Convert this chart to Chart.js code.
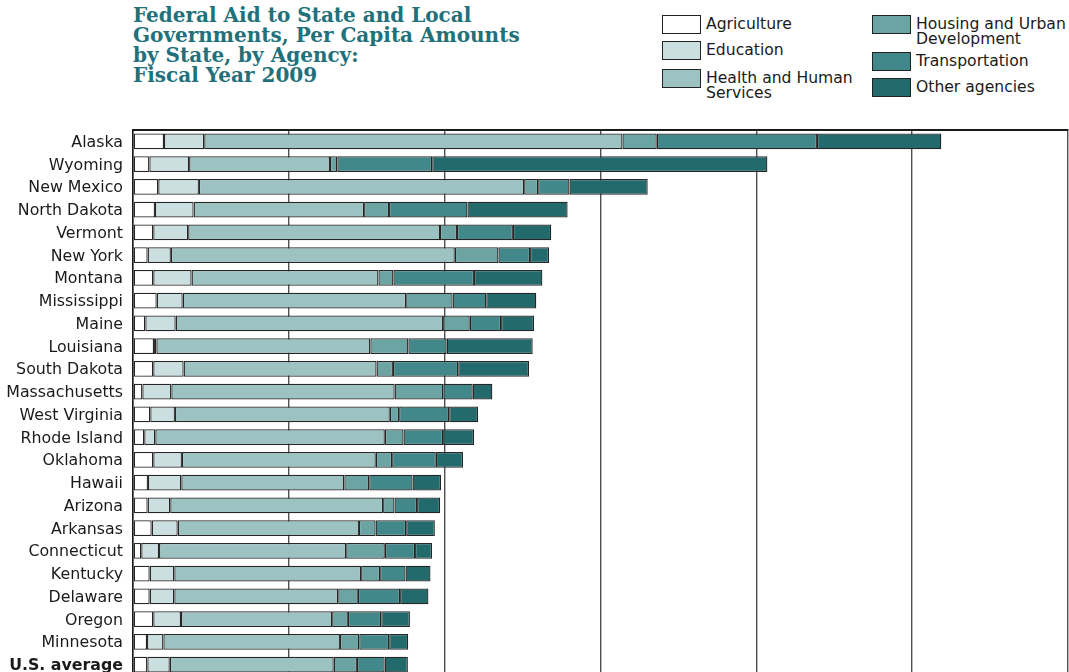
<!DOCTYPE html>
<html>
<head>
<meta charset="utf-8">
<script src="https://cdn.jsdelivr.net/npm/chart.js@4.4.0/dist/chart.umd.min.js"></script>
<style>
  html, body { margin: 0; padding: 0; background: #fff; overflow: hidden; width: 1069px; height: 672px; }
  #title { position: absolute; left: 133px; top: 5px; margin: 0; font-family: "DejaVu Serif", serif; font-weight: bold; font-size: 20px; line-height: 20px; color: #22707a; }
  #legend { position: absolute; left: 0; top: 0; font-family: "DejaVu Sans", sans-serif; font-size: 15.6px; line-height: 15px; color: #1a1a1a; }
  .item { position: absolute; }
  .box { position: absolute; left: 0; top: 0; width: 37px; height: 17px; border: 1px solid #222; }
  .txt { position: absolute; left: 44px; top: 2px; }
  canvas { position: absolute; left: 0; top: 0; }
</style>
</head>
<body>
<div id="title">Federal Aid to State and Local<br>Governments, Per Capita Amounts<br>by State, by Agency:<br>Fiscal Year 2009</div>
<div id="legend"></div>
<canvas id="c" width="1069" height="720"></canvas>
<script>
const categories = ["Alaska","Wyoming","New Mexico","North Dakota","Vermont","New York","Montana","Mississippi","Maine","Louisiana","South Dakota","Massachusetts","West Virginia","Rhode Island","Oklahoma","Hawaii","Arizona","Arkansas","Connecticut","Kentucky","Delaware","Oregon","Minnesota","U.S. average"];

const agriculture    = [199,105,162,141,130, 94,130,152, 79,135,130, 60,111, 72,130, 96, 94,120, 53,107,107,130, 90, 92];
const education      = [258,255,261,248,224,149,246,167,195, 15,195,186,158, 71,184,214,145,167,114,158,158,178,105,144];
const healthHuman    = [2684,904,2087,1094,1616,1822,1199,1434,1716,1373,1238,1433,1379,1473,1244,1046,1366,1163,1201,1199,1052,970,1133,1052];
const housingUrban   = [220, 47, 90,160,109,280, 96,298,171,244,105,312, 60,120,105,160, 73,107,248,122,126,101,124,149];
const transportation = [1028,609,201,503,359,203,517,216,201,246,419,189,321,254,280,278,145,196,194,163,271,214,192,178];
const otherAgencies  = [798,2151,502,643,246,122,439,321,212,552,455,126,186,199,175,183,148,184,109,160,182,184,122,149];

const seriesNames = ["Agriculture","Education","Health and Human Services","Housing and Urban Development","Transportation","Other agencies"];
const seriesColors = ["#ffffff","#cbdfe0","#9cc2c2","#6ca4a4","#42888a","#236a6d"];
const seriesData = [agriculture, education, healthHuman, housingUrban, transportation, otherAgencies];

const xMax = 6000;
const xStep = 1000;

// legend (HTML), laid out in two columns
const legendPos = [[662,15,165],[662,41,165],[662,69,165],[872,15,160],[872,52,160],[872,78,160]];
const legend = document.getElementById('legend');
seriesNames.forEach((n, i) => {
  const it = document.createElement('div');
  it.className = 'item';
  it.style.left = legendPos[i][0] + 'px';
  it.style.top = legendPos[i][1] + 'px';
  const b = document.createElement('div');
  b.className = 'box';
  b.style.background = seriesColors[i];
  const t = document.createElement('div');
  t.className = 'txt';
  t.style.width = legendPos[i][2] + 'px';
  t.textContent = n;
  it.appendChild(b); it.appendChild(t);
  legend.appendChild(it);
});

new Chart(document.getElementById('c'), {
  type: 'bar',
  data: {
    labels: categories,
    datasets: seriesNames.map((n, i) => ({
      label: n,
      data: seriesData[i],
      backgroundColor: seriesColors[i],
      borderColor: '#262626',
      borderWidth: 1.3,
      borderSkipped: false,
      barPercentage: 0.7,
      categoryPercentage: 1.0
    }))
  },
  options: {
    indexAxis: 'y',
    responsive: false,
    animation: false,
    layout: { padding: { top: 130, bottom: 44, left: 0, right: 1 } },
    plugins: { legend: { display: false }, tooltip: { enabled: false }, title: { display: false } },
    scales: {
      x: {
        stacked: true,
        position: 'top',
        min: 0,
        max: xMax,
        ticks: { display: false, stepSize: xStep },
        grid: { color: '#505050', lineWidth: 1.4, drawTicks: false },
        border: { display: true, color: '#1a1a1a', width: 2 },
        afterFit: s => { s.height = 0; }
      },
      y: {
        stacked: true,
        grid: { display: false, drawTicks: false },
        border: { display: true, color: '#1a1a1a', width: 1.5 },
        ticks: {
          autoSkip: false,
          padding: 10,
          labelOffset: 1.5,
          color: '#1a1a1a',
          font: ctx => ({ family: 'DejaVu Sans', size: 15.8, weight: ctx.index === categories.length - 1 ? 'bold' : 'normal' })
        },
        afterFit: s => { s.width = 133; }
      }
    }
  }
});
</script>
</body>
</html>
